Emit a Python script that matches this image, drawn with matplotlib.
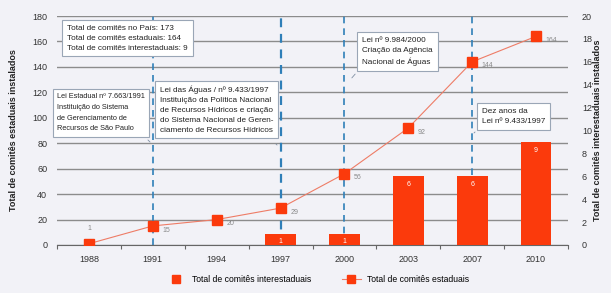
import matplotlib.pyplot as plt
from matplotlib.lines import Line2D

plt.rcParams['font.family'] = ['Liberation Sans', 'DejaVu Sans']

# data
anos = ['1988', '1991', '1994', '1997', '2000', '2003', '2007', '2010']
estaduais = [1, 15, 20, 29, 56, 92, 144, 164]
interestaduais = [0, 0, 0, 1, 1, 6, 6, 9]
marcos = ['1991', '1997', '2000', '2007']

red = '#fb3a0c'
line_red = '#ee7c66'
blue = '#2f7fb8'
bg = '#f2f2f7'
grey_txt = '#8a8a8a'

x = list(range(len(anos)))

fig = plt.figure(figsize=(6.11, 2.93), dpi=100)
fig.patch.set_facecolor(bg)
W, H = 611, 293
ax = fig.add_axes([57 / W, 1 - 245 / H, 511 / W, 229 / H])
ax.set_facecolor(bg)

ax.set_xlim(-0.5, 7.5)
ax.set_ylim(0, 180)
ax.set_yticks(range(0, 181, 20))
ax.grid(axis='y', color='#8c8c8c', lw=1.0, zorder=0)
ax.set_axisbelow(True)
for s in ['left', 'top', 'right']:
    ax.spines[s].set_visible(False)
ax.spines['bottom'].set_color('#666666')
ax.spines['bottom'].set_linewidth(0.8)

ax.set_xticks(x)
ax.set_xticklabels(anos)
ax.set_xticks([i + 0.5 for i in range(-1, len(anos))], minor=True)
ax.tick_params(axis='x', which='major', length=0, pad=7, labelsize=6.5, labelcolor='#333333')
ax.tick_params(axis='x', which='minor', length=3, width=0.8, color='#666666', direction='out')
ax.tick_params(axis='y', length=0, pad=7, labelsize=6.5, labelcolor='#333333')

# vertical dashed lines
for m in marcos:
    i = anos.index(m)
    ax.axvline(i, ymin=0, ymax=1.01, color=blue, lw=1.6 if m == '1997' else 1.2,
               ls=(0, (4, 3)), zorder=1, clip_on=False)

# estaduais line
ax.plot(x, estaduais, color=line_red, lw=0.8, marker='s', markersize=7,
        markerfacecolor=red, markeredgecolor=red, zorder=3)
for i, v in enumerate(estaduais):
    if i == 0:
        ax.annotate(str(v), (i, v), xytext=(0, 11), textcoords='offset points',
                    ha='center', va='center', fontsize=5, color=grey_txt)
    else:
        ax.annotate(str(v), (i, v), xytext=(7, -3), textcoords='offset points',
                    ha='left', va='center', fontsize=5, color=grey_txt)

# interestaduais bars (right axis)
ax2 = ax.twinx()
ax2.set_ylim(0, 20)
ax2.set_yticks(range(0, 21, 2))
ax2.tick_params(axis='y', length=0, pad=10, labelsize=6.5, labelcolor='#333333')
for s in ['left', 'top', 'right', 'bottom']:
    ax2.spines[s].set_visible(False)
ax2.bar(x, interestaduais, width=0.48, color=red, zorder=2)
for i, v in enumerate(interestaduais):
    if v > 0:
        ax2.annotate(str(v), (i, v), xytext=(0, -6), textcoords='offset points',
                     ha='center', va='center', fontsize=5, color='white')


def px(xp, yp):
    return ((xp - 57) / 511, (245 - yp) / 229)


box = dict(boxstyle='square,pad=0.6', fc='white', ec='#9aa6b6', lw=0.8)
notas = [
    ((67, 25), 'Total de comitês no País: 173\nTotal de comitês estaduais: 164\nTotal de comitês interestaduais: 9', 5.9, 1.55),
    ((57, 93), 'Lei Estadual nº 7.663/1991\nInstituição do Sistema\nde Gerenciamento de\nRecursos de São Paulo', 5.35, 1.75),
    ((160, 86), 'Lei das Águas / nº 9.433/1997\nInstituição da Política Nacional\nde Recursos Hídricos e criação\ndo Sistema Nacional de Geren-\nciamento de Recursos Hídricos', 5.9, 1.55),
    ((362, 37), 'Lei nº 9.984/2000\nCriação da Agência\nNacional de Águas', 5.9, 1.55),
    ((482, 108), 'Dez anos da\nLei nº 9.433/1997', 5.9, 1.55),
]
for (xp, yp), txt, fs, ls in notas:
    ax2.text(*px(xp, yp), txt, transform=ax2.transAxes, ha='left', va='top',
             fontsize=fs, color='#222222', linespacing=ls, bbox=box, zorder=10)

# small pointer lines
pointers = [((146, 138), (152, 144)), ((274, 142), (279, 147)),
            ((357, 72), (350, 80)), ((477, 130), (474, 133))]
for a, b in pointers:
    ax2.annotate('', xy=px(*b), xycoords='axes fraction', xytext=px(*a),
                 textcoords='axes fraction',
                 arrowprops=dict(arrowstyle='-', color='#7f8fa3', lw=0.6), zorder=11)

fig.text(14 / W, 1 - 130 / H, 'Total de comitês estaduais instalados', rotation=90,
         ha='center', va='center', fontsize=6.5, fontweight='bold', color='#222222')
fig.text(597 / W, 1 - 130 / H, 'Total de comitês interestaduais instalados', rotation=90,
         ha='center', va='center', fontsize=6.5, fontweight='bold', color='#222222')

handles = [
    Line2D([], [], ls='none', marker='s', markersize=6, color=red),
    Line2D([], [], color=line_red, lw=0.8, marker='s', markersize=6,
           markerfacecolor=red, markeredgecolor=red),
]
fig.legend(handles, ['Total de comitês interestaduais', 'Total de comitês estaduais'],
           loc='center', bbox_to_anchor=(318 / W, 1 - 280 / H), ncol=2, frameon=False,
           fontsize=6.2, handlelength=2.2, columnspacing=3.5, handletextpad=0.8)

fig.savefig('out.png', dpi=100, facecolor=bg)
